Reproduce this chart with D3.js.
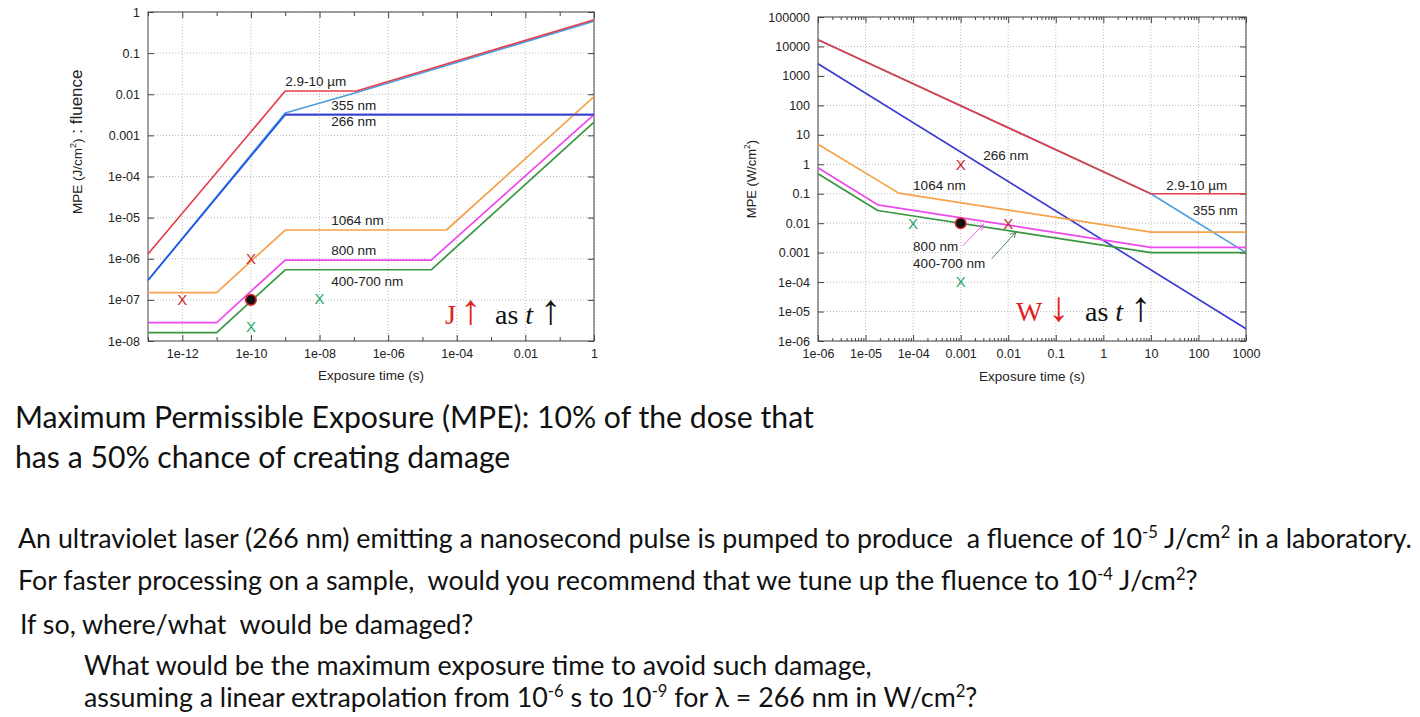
<!DOCTYPE html>
<html>
<head>
<meta charset="utf-8">
<style>
	body { margin: 0; background: #fff; }
	svg text { font-family: "Liberation Sans", Arial, sans-serif; }
	.tick text { font-size: 12.5px; fill: #222; }
	.tick line { stroke: #444; }
	.grid line { stroke: #bdbdbd; stroke-dasharray: 1,2; }
	.frame { fill: none; stroke: #444; stroke-width: 1px; }
	.curve { fill: none; stroke-width: 1.7px; stroke-linejoin: round; }
	.lbl { font-size: 13.5px; fill: #222; }
	.slide { font-family: Lato, "Open Sans", sans-serif; fill: #111; white-space: pre; }
	.big { font-family: "Liberation Serif", "DejaVu Serif", serif; font-size: 28px; white-space: pre; }
</style>
</head>
<body>
<svg width="1420" height="717"></svg>
<script src="https://cdn.jsdelivr.net/npm/d3@7/dist/d3.min.js"></script>
<script>

	// left panel: MPE as fluence (J/cm2) vs exposure time (s)
	var leftXTicks = [1e-12, 1e-10, 1e-8, 1e-6, 1e-4, 0.01, 1];
	var leftXLabels = ["1e-12", "1e-10", "1e-08", "1e-06", "1e-04", "0.01", "1"];
	var leftXMinor = [1e-13, 1e-11, 1e-9, 1e-7, 1e-5, 1e-3, 0.1];
	var leftYTicks = [1, 0.1, 0.01, 0.001, 1e-4, 1e-5, 1e-6, 1e-7, 1e-8];
	var leftYLabels = ["1", "0.1", "0.01", "0.001", "1e-04", "1e-05", "1e-06", "1e-07", "1e-08"];

	var flu2910 = [[1e-13, 1.3e-6], [1e-9, 0.012], [1.2e-7, 0.012], [1, 0.65]];
	var flu355 = [[1e-13, 3e-7], [1e-9, 0.0035], [1.2e-7, 0.011], [1, 0.6]];
	var flu266 = [[1e-13, 3e-7], [1e-9, 0.0032], [1, 0.0032]];
	var flu1064 = [[1e-13, 1.5e-7], [1e-11, 1.5e-7], [1e-9, 5e-6], [5e-5, 5e-6], [1, 0.0087]];
	var flu800 = [[1e-13, 2.8e-8], [1e-11, 2.8e-8], [1e-9, 9.3e-7], [1.8e-5, 9.3e-7], [1, 0.0032]];
	var flu400 = [[1e-13, 1.6e-8], [1e-11, 1.6e-8], [1e-9, 5.4e-7], [1.8e-5, 5.4e-7], [1, 0.0021]];

	var leftRedX = [[1e-12, 1e-7], [1e-10, 1e-6]];
	var leftGreenX = [[1e-10, 2.3e-8], [1e-8, 1.05e-7]];
	var leftDot = [[1e-10, 1e-7]];

	// right panel: MPE as irradiance (W/cm2) vs exposure time (s)
	var rightXTicks = [1e-6, 1e-5, 1e-4, 0.001, 0.01, 0.1, 1, 10, 100, 1000];
	var rightXLabels = ["1e-06", "1e-05", "1e-04", "0.001", "0.01", "0.1", "1", "10", "100", "1000"];
	var rightYTicks = [1e5, 1e4, 1000, 100, 10, 1, 0.1, 0.01, 0.001, 1e-4, 1e-5, 1e-6];
	var rightYLabels = ["100000", "10000", "1000", "100", "10", "1", "0.1", "0.01", "0.001", "1e-04", "1e-05", "1e-06"];

	var irr2910 = [[1e-6, 1.7e4], [10, 0.1], [1000, 0.1]];
	var irr355 = [[1e-6, 1.7e4], [10, 0.1], [1000, 0.001]];
	var irr266 = [[1e-6, 2600], [1000, 2.6e-6]];
	var irr1064 = [[1e-6, 4.8], [5e-5, 0.105], [10, 0.005], [1000, 0.005]];
	var irr800 = [[1e-6, 0.76], [1.8e-5, 0.042], [10, 0.0015], [1000, 0.0015]];
	var irr400 = [[1e-6, 0.48], [1.8e-5, 0.027], [10, 0.001], [1000, 0.001]];

	var rightRedX = [[0.001, 1], [0.01, 0.01]];
	var rightGreenX = [[1e-4, 0.01], [0.001, 1e-4]];
	var rightDot = [[0.001, 0.01]];

	var colors = {
		red: "#e4404a", light: "#4a9fe0", blue: "#3c3cd0", blueThick: "#2456e6",
		orange: "#f5a24a", magenta: "#ee48ee", green: "#3a9640"
	};

	var svg = d3.select("svg");

	function panel(o) {
		var x = d3.scaleLog().domain(o.xDomain).range([o.x0, o.x1]);
		var y = d3.scaleLog().domain(o.yDomain).range([o.y1, o.y0]);
		var g = svg.append("g");

		var grid = g.append("g").attr("class", "grid");
		grid.selectAll("line.v").data(o.xGrid).enter().append("line").attr("class", "v")
			.attr("x1", function (d) { return x(d); }).attr("x2", function (d) { return x(d); })
			.attr("y1", o.y0).attr("y2", o.y1);
		grid.selectAll("line.h").data(o.yTicks).enter().append("line").attr("class", "h")
			.attr("y1", function (d) { return y(d); }).attr("y2", function (d) { return y(d); })
			.attr("x1", o.x0).attr("x2", o.x1);

		function ax(gen, tx, ty, vals, size, fmt) {
			var a = g.append("g").attr("transform", "translate(" + tx + "," + ty + ")")
				.call(gen.tickValues(vals).tickSizeInner(-size).tickSizeOuter(0).tickPadding(8)
					.tickFormat(fmt || function () { return ""; }));
			a.select(".domain").remove();
			return a;
		}
		ax(d3.axisBottom(x), 0, o.y1, o.xTicks, 6, function (d, i) { return o.xLabels[i]; });
		ax(d3.axisTop(x), 0, o.y0, o.xTicks, 6);
		ax(d3.axisBottom(x), 0, o.y1, o.xMinor, o.xMinorSize);
		ax(d3.axisTop(x), 0, o.y0, o.xMinor, o.xMinorSize);
		ax(d3.axisLeft(y), o.x0, 0, o.yTicks, 6, function (d, i) { return o.yLabels[i]; });
		ax(d3.axisRight(y), o.x1, 0, o.yTicks, 6);

		g.append("rect").attr("class", "frame")
			.attr("x", o.x0).attr("y", o.y0).attr("width", o.x1 - o.x0).attr("height", o.y1 - o.y0);

		var line = d3.line().x(function (d) { return x(d[0]); }).y(function (d) { return y(d[1]); });
		g.selectAll("path.curve").data(o.series).enter().append("path").attr("class", "curve")
			.attr("d", function (s) { return line(s.pts); })
			.attr("stroke", function (s) { return s.color; })
			.attr("stroke-width", function (s) { return s.w || 1.7; });

		g.selectAll("text.lbl").data(o.labels).enter().append("text").attr("class", "lbl")
			.attr("x", function (d) { return x(d.t); }).attr("y", function (d) { return y(d.v); })
			.attr("dy", "0.35em").text(function (d) { return d.text; });

		function crosses(pts, col) {
			g.selectAll(null).data(pts).enter().append("text")
				.attr("x", function (d) { return x(d[0]); }).attr("y", function (d) { return y(d[1]); })
				.attr("dy", "0.36em").attr("text-anchor", "middle")
				.style("font-size", "15px").attr("fill", col).text("X");
		}
		crosses(o.redX, "#c8282c");
		crosses(o.greenX, "#1fa868");
		g.selectAll("circle.dot").data(o.dot).enter().append("circle").attr("class", "dot")
			.attr("cx", function (d) { return x(d[0]); }).attr("cy", function (d) { return y(d[1]); })
			.attr("r", 5.3).attr("fill", "#111").attr("stroke", "#d42a2a").attr("stroke-width", 1.5);

		return { x: x, y: y, g: g };
	}

	var left = panel({
		x0: 148, x1: 594, y0: 12, y1: 341,
		xDomain: [1e-13, 1], yDomain: [1e-8, 1],
		xTicks: leftXTicks, xLabels: leftXLabels, xMinor: leftXMinor, xMinorSize: 4, xGrid: leftXTicks,
		yTicks: leftYTicks, yLabels: leftYLabels,
		series: [
			{ pts: flu355, color: colors.light },
			{ pts: flu2910, color: colors.red },
			{ pts: flu266, color: colors.blueThick, w: 2.4 },
			{ pts: flu1064, color: colors.orange },
			{ pts: flu800, color: colors.magenta },
			{ pts: flu400, color: colors.green }
		],
		labels: [
			{ t: 1e-9, v: 0.021, text: "2.9-10 µm" },
			{ t: 2.2e-8, v: 0.0053, text: "355 nm" },
			{ t: 2.2e-8, v: 0.0022, text: "266 nm" },
			{ t: 2.2e-8, v: 8.5e-6, text: "1064 nm" },
			{ t: 2.2e-8, v: 1.6e-6, text: "800 nm" },
			{ t: 2.2e-8, v: 2.9e-7, text: "400-700 nm" }
		],
		redX: leftRedX, greenX: leftGreenX, dot: leftDot
	});
	// the 266 nm flat part is the thinner dark blue
	left.g.append("path").attr("class", "curve").attr("stroke", colors.blue).attr("stroke-width", 1.7)
		.attr("d", d3.line().x(function (d) { return left.x(d[0]); }).y(function (d) { return left.y(d[1]); })(flu266.slice(1)));

	var rightMinor = [];
	rightXTicks.slice(0, -1).forEach(function (d) { for (var k = 2; k < 10; k++) rightMinor.push(d * k); });

	var right = panel({
		x0: 818, x1: 1246, y0: 17, y1: 341,
		xDomain: [1e-6, 1000], yDomain: [1e-6, 1e5],
		xTicks: rightXTicks, xLabels: rightXLabels, xMinor: rightMinor, xMinorSize: 3, xGrid: rightXTicks,
		yTicks: rightYTicks, yLabels: rightYLabels,
		series: [
			{ pts: irr355, color: colors.light },
			{ pts: irr2910, color: colors.red },
			{ pts: irr266, color: colors.blue },
			{ pts: irr1064, color: colors.orange },
			{ pts: irr800, color: colors.magenta },
			{ pts: irr400, color: colors.green }
		],
		labels: [
			{ t: 0.003, v: 2.0, text: "266 nm" },
			{ t: 1e-4, v: 0.2, text: "1064 nm" },
			{ t: 1e-4, v: 0.0017, text: "800 nm" },
			{ t: 1e-4, v: 4.4e-4, text: "400-700 nm" },
			{ t: 21, v: 0.19, text: "2.9-10 µm" },
			{ t: 76, v: 0.027, text: "355 nm" }
		],
		redX: rightRedX, greenX: rightGreenX, dot: rightDot
	});

	// pointer arrows from the 800 nm and 400-700 nm labels
	var defs = svg.append("defs");
	[["mag", "#e860e8"], ["grn", "#4e8a56"]].forEach(function (m) {
		defs.append("marker").attr("id", "ah-" + m[0]).attr("viewBox", "0 0 10 10")
			.attr("refX", 9).attr("refY", 5).attr("markerWidth", 7).attr("markerHeight", 7)
			.attr("orient", "auto").append("path").attr("d", "M1,1 L9,5 L1,9")
			.attr("fill", "none").attr("stroke", m[1]).attr("stroke-width", 1.3);
	});
	var pointers = [
		{ from: [1.1e-3, 0.0017], to: [0.003, 0.0089], id: "mag", color: "#e860e8" },
		{ from: [0.0045, 6.2e-4], to: [0.0145, 0.005], id: "grn", color: "#4e8a56" }
	];
	right.g.selectAll("line.ptr").data(pointers).enter().append("line").attr("class", "ptr")
		.attr("x1", function (d) { return right.x(d.from[0]); }).attr("y1", function (d) { return right.y(d.from[1]); })
		.attr("x2", function (d) { return right.x(d.to[0]); }).attr("y2", function (d) { return right.y(d.to[1]); })
		.attr("stroke", function (d) { return d.color; }).attr("stroke-width", 1)
		.attr("marker-end", function (d) { return "url(#ah-" + d.id + ")"; });

	// axis titles
	function yTitle(x, y, anchor, parts) {
		var t = svg.append("text").attr("transform", "translate(" + x + "," + y + ") rotate(-90)")
			.attr("text-anchor", anchor).attr("fill", "#222").style("white-space", "pre");
		parts.forEach(function (p) {
			t.append("tspan").style("font-size", p[1] + "px").attr("dy", p[2] || 0).text(p[0]);
		});
	}
	yTitle(82, 214, "start", [["MPE (J/cm", 13.5], ["2", 9, -6], [")", 13.5, 6], [" : fluence", 17]]);
	yTitle(756, 179, "middle", [["MPE (W/cm", 13], ["2", 8.5, -6], [")", 13, 6]]);

	svg.append("text").attr("x", 371).attr("y", 380).attr("text-anchor", "middle")
		.style("font-size", "13.5px").attr("fill", "#222").text("Exposure time (s)");
	svg.append("text").attr("x", 1032).attr("y", 381).attr("text-anchor", "middle")
		.style("font-size", "13.5px").attr("fill", "#222").text("Exposure time (s)");

	// "J up as t up" and "W down as t up"
	function trend(x, y, letter, arrow, ax1, asx, ax2) {
		var t = svg.append("text").attr("class", "big").attr("x", x).attr("y", y);
		t.append("tspan").attr("fill", "#e02020").text(letter);
		t.append("tspan").attr("x", ax1).attr("fill", "#e02020").style("font-size", "42px").text(arrow);
		t.append("tspan").attr("x", asx).attr("fill", "#111").text("as ");
		t.append("tspan").attr("fill", "#111").style("font-style", "italic").text("t");
		t.append("tspan").attr("x", ax2).attr("fill", "#111").style("font-size", "42px").text("\u2191");
	}
	trend(445, 324, "J", "\u2191", 460, 495, 540);
	trend(1016, 321, "W", "\u2193", 1048, 1085, 1130);

	// slide text
	var lines = [
		{ x: 15, y: 428, size: 30.2, parts: [["Maximum Permissible Exposure (MPE): 10% of the dose that"]] },
		{ x: 15, y: 468, size: 30.2, parts: [["has a 50% chance of creating damage"]] },
		{ x: 18, y: 548, size: 26.8, parts: [["An ultraviolet laser (266 nm) emitting a nanosecond pulse is pumped to produce  a fluence of 10"], ["-5", 1], [" J/cm"], ["2", 1], [" in a laboratory."]] },
		{ x: 18, y: 590, size: 26.8, parts: [["For faster processing on a sample,  would you recommend that we tune up the fluence to 10"], ["-4", 1], [" J/cm"], ["2", 1], ["?"]] },
		{ x: 20, y: 634, size: 26.8, parts: [["If so, where/what  would be damaged?"]] },
		{ x: 84, y: 675, size: 26.8, parts: [["What would be the maximum exposure time to avoid such damage,"]] },
		{ x: 84, y: 707, size: 26.8, parts: [["assuming a linear extrapolation from 10"], ["-6", 1], [" s to 10"], ["-9", 1], [" for \u03bb = 266 nm in W/cm"], ["2", 1], ["?"]] }
	];
	lines.forEach(function (l) {
		var t = svg.append("text").attr("class", "slide").attr("x", l.x).attr("y", l.y)
			.style("font-size", l.size + "px");
		var up = false;
		l.parts.forEach(function (p) {
			var sup = !!p[1];
			var dy = sup && !up ? -l.size * 0.38 : (!sup && up ? l.size * 0.38 : 0);
			up = sup;
			t.append("tspan").attr("dy", dy).style("font-size", sup ? (l.size * 0.62) + "px" : null).text(p[0]);
		});
	});

</script>
</body>
</html>
